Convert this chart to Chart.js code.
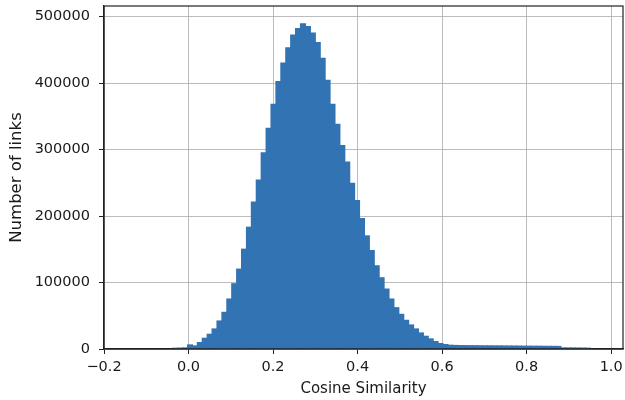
<!DOCTYPE html>
<html>
<head>
<meta charset="utf-8">
<script src="https://cdn.jsdelivr.net/npm/chart.js@4.4.1/dist/chart.umd.min.js"></script>
<style>
  html, body { margin: 0; padding: 0; background: #ffffff; }
  #wrap { width: 625px; height: 400px; }
</style>
</head>
<body>
<div id="wrap"><canvas id="c" width="625" height="400"></canvas></div>
<script>
// ---- data ----
const binStart = -0.0371;      // left edge of first bin
const binWidth = 0.01162;      // uniform bin width
const counts = [
  2000, 2200, 2500, 7000, 5500, 10500, 17000, 23000, 31000, 43000,
  56000, 76000, 99000, 121000, 151000, 184000, 222000, 255000, 296000, 333000,
  369000, 403000, 431000, 454000, 473000, 483000, 490000, 486000, 476000, 462000,
  438000, 405000, 369000, 339000, 307000, 282000, 250000, 224000, 197000, 171000,
  149000, 126000, 108000, 91000, 76000, 63000, 53000, 44000, 37000, 31000,
  25000, 20000, 16000, 12000, 9000, 7500, 6500, 6200, 6000, 5900,
  5800, 5800, 5700, 5600, 5600, 5500, 5500, 5400, 5300, 5300,
  5200, 5100, 5100, 5000, 5000, 4900, 4800, 4800, 4700, 2500,
  2400, 2400, 2300, 2200, 2100
];
const xTicks = [-0.2, 0.0, 0.2, 0.4, 0.6, 0.8, 1.0];
const yTicks = [0, 100000, 200000, 300000, 400000, 500000];
const xLabel = 'Cosine Similarity';
const yLabel = 'Number of links';

const binCenters = counts.map((_, i) => binStart + (i + 0.5) * binWidth);
const points = counts.map((v, i) => ({ x: binCenters[i], y: v }));

const FONT = 'DejaVu Sans';
const TXT = '#1a1a1a';

const framePlugin = {
  id: 'frame',
  afterDraw(chart) {
    const a = chart.chartArea, ctx = chart.ctx;
    ctx.save();
    ctx.strokeStyle = '#222222';
    ctx.lineWidth = 1.2;
    ctx.strokeRect(a.left, a.top, a.right - a.left, a.bottom - a.top);
    ctx.restore();
  }
};

new Chart(document.getElementById('c'), {
  type: 'bar',
  data: {
    datasets: [{
      data: points,
      backgroundColor: '#3173b3',
      borderWidth: 0,
      barPercentage: 1.25,
      categoryPercentage: 1.0,
      grouped: false
    }]
  },
  options: {
    responsive: false,
    devicePixelRatio: 1,
    animation: false,
    layout: { padding: { top: 6, right: 2, left: 0, bottom: 0 } },
    plugins: { legend: { display: false }, tooltip: { enabled: false } },
    scales: {
      x: {
        type: 'linear',
        min: -0.2,
        max: 1.028,
        offset: false,
        z: 1,
        afterBuildTicks(scale) { scale.ticks = xTicks.map(v => ({ value: v })); },
        afterFit(scale) {
          scale.height = 51;
          scale.paddingLeft = 0; scale.paddingRight = 0;
        },
        ticks: {
          autoSkip: false,
          maxRotation: 0,
          padding: 5,
          color: TXT,
          font: { family: FONT, size: 14.5 },
          callback: v => (v < 0 ? '\u2212' : '') + Math.abs(v).toFixed(1)
        },
        grid: {
          offset: false,
          color: 'rgba(176,176,176,0.85)',
          lineWidth: 1,
          tickLength: 5,
          tickColor: '#222222',
          drawTicks: true
        },
        border: { display: true, color: '#222222', width: 1.2 },
        title: {
          display: true,
          text: xLabel,
          color: TXT,
          font: { family: FONT, size: 15 },
          padding: { top: 0, bottom: 2 }
        }
      },
      y: {
        type: 'linear',
        min: 0,
        max: 516000,
        z: 1,
        afterBuildTicks(scale) { scale.ticks = yTicks.map(v => ({ value: v })); },
        afterFit(scale) {
          scale.width = 104;
          scale.paddingTop = 0; scale.paddingBottom = 0;
        },
        ticks: {
          autoSkip: false,
          padding: 9,
          color: TXT,
          font: { family: FONT, size: 14.5 },
          callback: v => String(v)
        },
        grid: {
          color: 'rgba(176,176,176,0.85)',
          lineWidth: 1,
          tickLength: 5,
          tickColor: '#222222',
          drawTicks: true
        },
        border: { display: true, color: '#222222', width: 1.2 },
        title: {
          display: true,
          text: yLabel,
          color: TXT,
          font: { family: FONT, size: 16.5 },
          padding: { top: 7, bottom: 0 }
        }
      }
    }
  },
  plugins: [framePlugin]
});
</script>
</body>
</html>
